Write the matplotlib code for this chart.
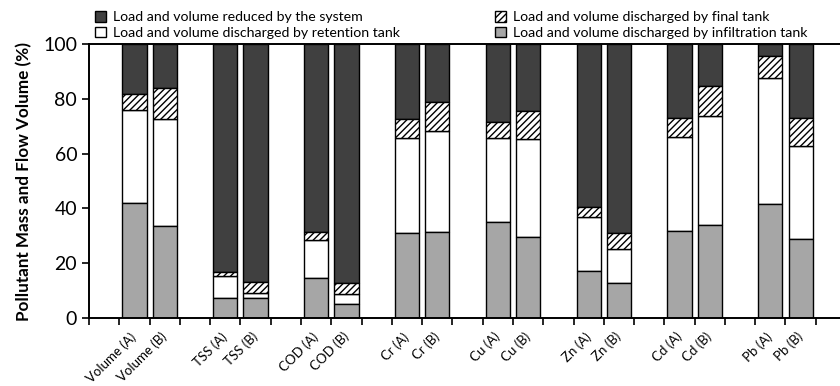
import numpy as np
import matplotlib.pyplot as plt

plt.rcParams['font.family'] = ['Lato', 'DejaVu Sans']
plt.rcParams['hatch.linewidth'] = 1.0

# category slots ('' = empty spacer slot between groups)
labels = ['', 'Volume (A)', 'Volume (B)', '', 'TSS (A)', 'TSS (B)', '',
          'COD (A)', 'COD (B)', '', 'Cr (A)', 'Cr (B)', '', 'Cu (A)', 'Cu (B)', '',
          'Zn (A)', 'Zn (B)', '', 'Cd (A)', 'Cd (B)', '', 'Pb (A)', 'Pb (B)', '']

# (%), order: Volume A/B, TSS, COD, Cr, Cu, Zn, Cd, Pb
infiltration = [42.1, 33.7, 7.5, 7.2, 14.6, 5.0, 31.1, 31.5,
                34.9, 29.7, 17.0, 12.7, 31.9, 33.9, 41.5, 28.7]
retention = [33.8, 38.8, 7.9, 1.8, 13.9, 3.6, 34.7, 36.9,
             30.7, 35.5, 19.7, 12.4, 34.3, 39.8, 46.2, 34.2]
final_tank = [5.9, 11.4, 1.4, 4.3, 2.8, 4.1, 6.7, 10.6,
              6.1, 10.5, 3.9, 5.8, 6.7, 11.0, 7.9, 10.0]
reduced = [18.2, 16.1, 83.2, 86.7, 68.7, 87.3, 27.5, 21.0,
           28.3, 24.3, 59.4, 69.1, 27.1, 15.3, 4.4, 27.1]

pos = np.array([i for i, l in enumerate(labels) if l])
inf = np.array(infiltration)
ret = np.array(retention)
fin = np.array(final_tank)
red = np.array(reduced)

fig = plt.figure(figsize=(8.4, 3.86), dpi=100)
ax = fig.add_axes([0.106, 0.176, 0.894, 0.71])

w = 0.8
kw = dict(width=w, edgecolor='black', linewidth=1.0)
b_red = ax.bar(pos, red, bottom=inf + ret + fin, color='#404040', **kw)
b_ret = ax.bar(pos, ret, bottom=inf, color='white', **kw)
b_fin = ax.bar(pos, fin, bottom=inf + ret, color='white', hatch='/////', **kw)
b_inf = ax.bar(pos, inf, color='#a6a6a6', **kw)

ax.set_ylim(0, 100)
ax.set_xlim(-0.5, 24.3)
ax.set_yticks([0, 20, 40, 60, 80, 100])
ax.tick_params(axis='y', labelsize=14, direction='out', length=5, width=1.2)

ax.set_xticks(pos)
ax.set_xticklabels([labels[i] for i in pos], rotation=45, ha='right',
                   va='center', rotation_mode='anchor', fontsize=9.5)
ax.tick_params(axis='x', which='major', length=0, pad=12)
ax.set_xticks(np.arange(-0.5, 24.5, 1), minor=True)
ax.tick_params(axis='x', which='minor', direction='out', length=5, width=1.2)

ax.spines['right'].set_visible(False)
for s in ['left', 'bottom', 'top']:
    ax.spines[s].set_linewidth(1.4)

ax.set_ylabel('Pollutant Mass and Flow Volume (%)', fontsize=12.3,
              fontweight='bold', labelpad=8)

fig.legend([b_red, b_ret, b_fin, b_inf],
           ['Load and volume reduced by the system',
            'Load and volume discharged by retention tank',
            'Load and volume discharged by final tank',
            'Load and volume discharged by infiltration tank'],
           ncol=2, frameon=False, fontsize=10.2, loc='upper left',
           bbox_to_anchor=(0.1, 1.0), handlelength=0.75, handleheight=0.75,
           handletextpad=0.5, columnspacing=6.7, labelspacing=0.25,
           borderpad=0.3)

fig.savefig('out.png', dpi=100)
